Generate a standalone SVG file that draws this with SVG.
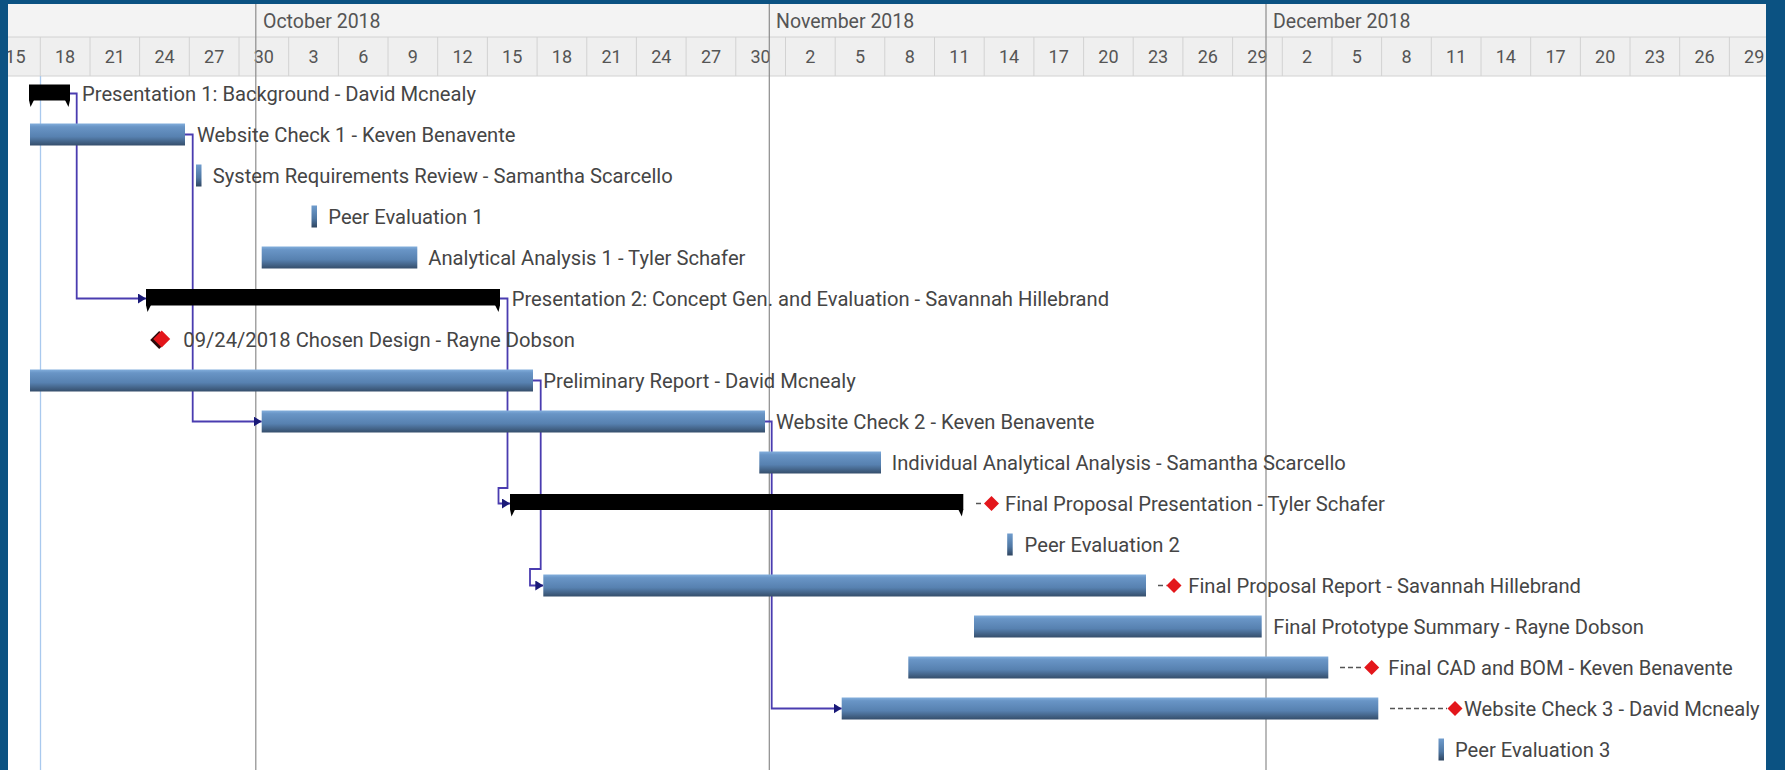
<svg xmlns="http://www.w3.org/2000/svg" width="1785" height="770" viewBox="0 0 1785 770">
<style>
.hdr{fill:#f3f3f3}
.hline{stroke:#d2d2d2;stroke-width:1}
.mline{stroke:#8c8c8c;stroke-width:1.2}
.day{font-family:Roboto,"Liberation Sans",sans-serif;font-size:18px;fill:#555;text-anchor:middle}
.mon{font-family:Roboto,"Liberation Sans",sans-serif;font-size:19.5px;fill:#555}
.lbl{font-family:Roboto,"Liberation Sans",sans-serif;font-size:20.2px;fill:#454545}
.bar{fill:url(#barGrad)}
.thin{fill:url(#thinGrad)}
.sum{fill:#000}
.conn{fill:none;stroke:#4a3cb0;stroke-width:1.8}
.lead{stroke:#555;stroke-width:1.5;stroke-dasharray:5 3}
.ms{fill:#e3161b}
</style>
<defs>
<linearGradient id="barGrad" x1="0" y1="0" x2="0" y2="1">
<stop offset="0" stop-color="#82aedc"/>
<stop offset="0.15" stop-color="#6995c6"/>
<stop offset="0.6" stop-color="#5781b0"/>
<stop offset="1" stop-color="#354e6b"/>
</linearGradient>
<linearGradient id="thinGrad" x1="0" y1="0" x2="0" y2="1">
<stop offset="0" stop-color="#6f9ccd"/>
<stop offset="0.6" stop-color="#4f77a3"/>
<stop offset="1" stop-color="#2f4560"/>
</linearGradient>
<marker id="arr" viewBox="0 0 8 10" refX="8" refY="5" markerWidth="8" markerHeight="10" markerUnits="userSpaceOnUse" orient="auto">
<path d="M0,0 L8,5 L0,10 Z" fill="#1a1a78"/>
</marker>
</defs>

<!-- frame background -->
<rect x="0" y="0" width="1785" height="770" fill="#0b5282"/>
<rect x="8" y="4" width="1758" height="766" fill="#ffffff"/>

<!-- header -->
<g id="header">
<rect class="hdr" x="8" y="4" width="1758" height="33"/>
<rect x="8" y="37" width="1758" height="39" fill="#efefef"/>
<line class="hline" x1="8" y1="37" x2="1766" y2="37"/>
<line class="hline" x1="8" y1="76" x2="1766" y2="76"/>
<g class="hline">
<line x1="40.3" y1="37" x2="40.3" y2="76"/><line x1="90" y1="37" x2="90" y2="76"/><line x1="139.6" y1="37" x2="139.6" y2="76"/><line x1="189.3" y1="37" x2="189.3" y2="76"/><line x1="239" y1="37" x2="239" y2="76"/><line x1="288.7" y1="37" x2="288.7" y2="76"/><line x1="338.4" y1="37" x2="338.4" y2="76"/><line x1="388" y1="37" x2="388" y2="76"/><line x1="437.7" y1="37" x2="437.7" y2="76"/><line x1="487.4" y1="37" x2="487.4" y2="76"/><line x1="537.1" y1="37" x2="537.1" y2="76"/><line x1="586.8" y1="37" x2="586.8" y2="76"/><line x1="636.4" y1="37" x2="636.4" y2="76"/><line x1="686.1" y1="37" x2="686.1" y2="76"/><line x1="735.8" y1="37" x2="735.8" y2="76"/><line x1="785.5" y1="37" x2="785.5" y2="76"/><line x1="835.2" y1="37" x2="835.2" y2="76"/><line x1="884.8" y1="37" x2="884.8" y2="76"/><line x1="934.5" y1="37" x2="934.5" y2="76"/><line x1="984.2" y1="37" x2="984.2" y2="76"/><line x1="1033.9" y1="37" x2="1033.9" y2="76"/><line x1="1083.6" y1="37" x2="1083.6" y2="76"/><line x1="1133.2" y1="37" x2="1133.2" y2="76"/><line x1="1182.9" y1="37" x2="1182.9" y2="76"/><line x1="1232.6" y1="37" x2="1232.6" y2="76"/><line x1="1282.3" y1="37" x2="1282.3" y2="76"/><line x1="1332" y1="37" x2="1332" y2="76"/><line x1="1381.6" y1="37" x2="1381.6" y2="76"/><line x1="1431.3" y1="37" x2="1431.3" y2="76"/><line x1="1481" y1="37" x2="1481" y2="76"/><line x1="1530.7" y1="37" x2="1530.7" y2="76"/><line x1="1580.4" y1="37" x2="1580.4" y2="76"/><line x1="1630" y1="37" x2="1630" y2="76"/><line x1="1679.7" y1="37" x2="1679.7" y2="76"/><line x1="1729.4" y1="37" x2="1729.4" y2="76"/>
</g>
<text class="mon" x="263" y="28">October 2018</text>
<text class="mon" x="776" y="28">November 2018</text>
<text class="mon" x="1273" y="28">December 2018</text>
<g class="day">
<text x="15.4" y="63">15</text><text x="65.1" y="63">18</text><text x="114.8" y="63">21</text><text x="164.5" y="63">24</text><text x="214.2" y="63">27</text><text x="263.8" y="63">30</text><text x="313.5" y="63">3</text><text x="363.2" y="63">6</text><text x="412.9" y="63">9</text><text x="462.6" y="63">12</text><text x="512.2" y="63">15</text><text x="561.9" y="63">18</text><text x="611.6" y="63">21</text><text x="661.3" y="63">24</text><text x="711" y="63">27</text><text x="760.6" y="63">30</text><text x="810.3" y="63">2</text><text x="860" y="63">5</text><text x="909.7" y="63">8</text><text x="959.4" y="63">11</text><text x="1009" y="63">14</text><text x="1058.7" y="63">17</text><text x="1108.4" y="63">20</text><text x="1158.1" y="63">23</text><text x="1207.8" y="63">26</text><text x="1257.4" y="63">29</text><text x="1307.1" y="63">2</text><text x="1356.8" y="63">5</text><text x="1406.5" y="63">8</text><text x="1456.2" y="63">11</text><text x="1505.8" y="63">14</text><text x="1555.5" y="63">17</text><text x="1605.2" y="63">20</text><text x="1654.9" y="63">23</text><text x="1704.6" y="63">26</text><text x="1754.2" y="63">29</text>
</g>
</g>

<!-- grid lines -->
<g id="gridlines">
<line x1="40.5" y1="76" x2="40.5" y2="770" stroke="#a9c9ee" stroke-width="1.3"/>
<line class="mline" x1="255.8" y1="4" x2="255.8" y2="770"/>
<line class="mline" x1="769.3" y1="4" x2="769.3" y2="770"/>
<line class="mline" x1="1266" y1="4" x2="1266" y2="770"/>
</g>

<!-- connectors -->
<g id="connectors">
<path class="conn" marker-end="url(#arr)" d="M70,93.5 H76.7 V298.5 H146"/>
<path class="conn" marker-end="url(#arr)" d="M185,134.5 H192.7 V421.5 H261.7"/>
<path class="conn" marker-end="url(#arr)" d="M500,298.5 H507.5 V488 H498.5 V503.5 H510"/>
<path class="conn" marker-end="url(#arr)" d="M533,380.5 H540.7 V569 H530 V585.5 H543.3"/>
<path class="conn" marker-end="url(#arr)" d="M765,421.5 H771.7 V708.5 H841.7"/>
</g>

<!-- tasks -->
<g id="task1">
<rect class="sum" x="29" y="84.5" width="41" height="16"/>
<polygon class="sum" points="29,100 34,100 30.5,107"/>
<polygon class="sum" points="65,100 70,100 68.5,107"/>
<text class="lbl" x="82" y="101">Presentation 1: Background - David Mcnealy</text>
</g>
<g id="task2">
<rect class="bar" x="30" y="123.5" width="155" height="22"/>
<text class="lbl" x="197" y="142">Website Check 1 - Keven Benavente</text>
</g>
<g id="task3">
<rect class="thin" x="196" y="164.5" width="5.5" height="22"/>
<text class="lbl" x="212.7" y="183">System Requirements Review - Samantha Scarcello</text>
</g>
<g id="task4">
<rect class="thin" x="311.5" y="205.5" width="5.5" height="22"/>
<text class="lbl" x="328.3" y="224">Peer Evaluation 1</text>
</g>
<g id="task5">
<rect class="bar" x="261.7" y="246.5" width="155.6" height="22"/>
<text class="lbl" x="428.3" y="265">Analytical Analysis 1 - Tyler Schafer</text>
</g>
<g id="task6">
<rect class="sum" x="146" y="289" width="354" height="16.5"/>
<polygon class="sum" points="146,305 151,305 147.5,312"/>
<polygon class="sum" points="495,305 500,305 498.5,312"/>
<text class="lbl" x="511.7" y="306">Presentation 2: Concept Gen. and Evaluation - Savannah Hillebrand</text>
</g>
<g id="task7">
<polygon points="159.2,331 168.2,340 159.2,349 150.2,340" fill="#2a0a0a"/>
<polygon class="ms" points="161.7,330.5 170.2,339 161.7,347.5 153.2,339"/>
<text class="lbl" x="183.3" y="347">09/24/2018 Chosen Design - Rayne Dobson</text>
</g>
<g id="task8">
<rect class="bar" x="30" y="369.5" width="503" height="22"/>
<text class="lbl" x="543.3" y="388">Preliminary Report - David Mcnealy</text>
</g>
<g id="task9">
<rect class="bar" x="261.7" y="410.5" width="503.3" height="22"/>
<text class="lbl" x="776" y="429">Website Check 2 - Keven Benavente</text>
</g>
<g id="task10">
<rect class="bar" x="759.3" y="451.5" width="121.7" height="22"/>
<text class="lbl" x="891.7" y="470">Individual Analytical Analysis - Samantha Scarcello</text>
</g>
<g id="task11">
<rect class="sum" x="510" y="494" width="453.3" height="16"/>
<polygon class="sum" points="510,509.5 515,509.5 511.5,516.5"/>
<polygon class="sum" points="958.3,509.5 963.3,509.5 961.8,516.5"/>
<line class="lead" x1="976" y1="503.5" x2="984" y2="503.5"/>
<polygon class="ms" points="991.5,496 999,503.5 991.5,511 984,503.5"/>
<text class="lbl" x="1005" y="511">Final Proposal Presentation - Tyler Schafer</text>
</g>
<g id="task12">
<rect class="thin" x="1007.2" y="533.5" width="5.5" height="22"/>
<text class="lbl" x="1024.6" y="552">Peer Evaluation 2</text>
</g>
<g id="task13">
<rect class="bar" x="543.3" y="574.5" width="602.7" height="22"/>
<line class="lead" x1="1158" y1="585.5" x2="1166.5" y2="585.5"/>
<polygon class="ms" points="1174,578 1181.5,585.5 1174,593 1166.5,585.5"/>
<text class="lbl" x="1188.3" y="593">Final Proposal Report - Savannah Hillebrand</text>
</g>
<g id="task14">
<rect class="bar" x="974" y="615.5" width="287.7" height="22"/>
<text class="lbl" x="1273.3" y="634">Final Prototype Summary - Rayne Dobson</text>
</g>
<g id="task15">
<rect class="bar" x="908.3" y="656.5" width="420" height="22"/>
<line class="lead" x1="1340" y1="667.5" x2="1364" y2="667.5"/>
<polygon class="ms" points="1371.7,660 1379.2,667.5 1371.7,675 1364.2,667.5"/>
<text class="lbl" x="1388.3" y="675">Final CAD and BOM - Keven Benavente</text>
</g>
<g id="task16">
<rect class="bar" x="841.7" y="697.5" width="536.6" height="22"/>
<line class="lead" x1="1390" y1="708.5" x2="1447" y2="708.5"/>
<polygon class="ms" points="1455,701 1462.5,708.5 1455,716 1447.5,708.5"/>
<text class="lbl" x="1464" y="716">Website Check 3 - David Mcnealy</text>
</g>
<g id="task17">
<rect class="thin" x="1438.5" y="738.5" width="5.5" height="22"/>
<text class="lbl" x="1455" y="757">Peer Evaluation 3</text>
</g>

<!-- frame borders on top -->
<rect x="0" y="0" width="8" height="770" fill="#0b5282"/>
<rect x="1766" y="0" width="19" height="770" fill="#0b5282"/>
<rect x="0" y="0" width="1785" height="4" fill="#0b5282"/>
</svg>
